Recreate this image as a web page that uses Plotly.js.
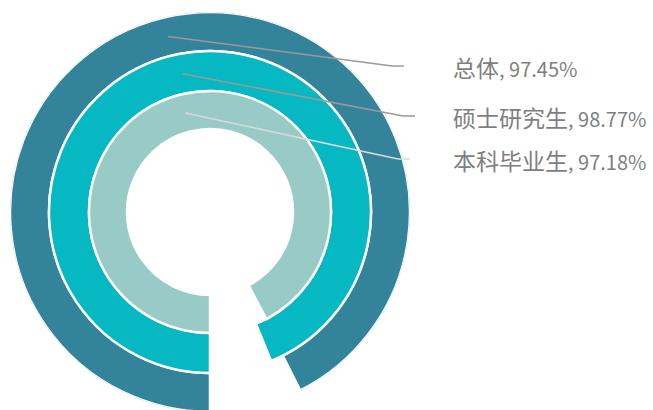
<!DOCTYPE html>
<html>
<head>
<meta charset="utf-8">
<script src="https://cdn.plot.ly/plotly-3.0.1.min.js"></script>
<style>
  html, body { margin: 0; padding: 0; overflow: hidden; background: #fff; }
  #chart { width: 653px; height: 430px; }
</style>
</head>
<body>
<div id="chart"></div>
<script>
  // data, outer ring first
  const groups = ["总体", "硕士研究生", "本科毕业生"];
  const rates = [97.45, 98.77, 97.18];
  const ringColors = ["#33849B", "#06B8C1", "#98CBC5"];
  const leaderColors = ["#9a9a9a", "#9a9a9a", "#dadada"];

  const W = 653, H = 430;
  const CX = 210, CY = 212, R = 200;
  const FULL_SCALE = 105.3; // value that would close the full circle
  const RING_EDGES = [[161, 200], [121, 161], [83, 121]];
  // bend point of each leader line, px
  const BENDS = [[392, 66], [403, 116], [398, 159]];
  const FONT = "'Noto Sans CJK SC', sans-serif";

  const px = (x) => x / W;
  const py = (y) => 1 - y / H;

  const arcs = rates.map((v) => (v / FULL_SCALE) * 360);

  const traces = rates.map((v, i) => ({
    type: "barpolar",
    name: groups[i],
    r: [RING_EDGES[i][1] - RING_EDGES[i][0]],
    base: [RING_EDGES[i][0]],
    theta: [arcs[i] / 2],
    width: [arcs[i]],
    marker: { color: ringColors[i], line: { color: "#ffffff", width: 2.5 } },
    hoverinfo: "skip",
  }));

  const shapes = [];
  const annotations = [];
  rates.forEach((v, i) => {
    const mid = (arcs[i] / 2) * Math.PI / 180;
    const rm = (RING_EDGES[i][0] + RING_EDGES[i][1]) / 2;
    const sx = CX - rm * Math.sin(mid);
    const sy = CY + rm * Math.cos(mid);
    const [bx, by] = BENDS[i];
    shapes.push({
      type: "path",
      xref: "paper", yref: "paper",
      path: `M ${px(sx)} ${py(sy)} L ${px(bx)} ${py(by)} L ${px(bx + 12)} ${py(by)}`,
      line: { color: leaderColors[i], width: 1.6 },
    });
    annotations.push({
      xref: "paper", yref: "paper",
      x: px(451), y: py(by + 1),
      xanchor: "left", yanchor: "middle",
      showarrow: false,
      text: `<span style="font-size:23px">${groups[i]}</span>, ${v.toFixed(2)}%`,
      font: { family: FONT, size: 20, color: "#7f7f7f" },
    });
  });

  const layout = {
    width: W, height: H,
    margin: { l: 0, r: 0, t: 0, b: 0 },
    paper_bgcolor: "#ffffff",
    showlegend: false,
    polar: {
      domain: { x: [px(CX - R), px(CX + R)], y: [py(CY + R), py(CY - R)] },
      bgcolor: "rgba(0,0,0,0)",
      radialaxis: { visible: false, range: [0, R] },
      angularaxis: { visible: false, rotation: 270, direction: "clockwise" },
      barmode: "overlay",
    },
    shapes,
    annotations,
  };

  Plotly.newPlot("chart", traces, layout, { displayModeBar: false, staticPlot: true });
</script>
</body>
</html>
